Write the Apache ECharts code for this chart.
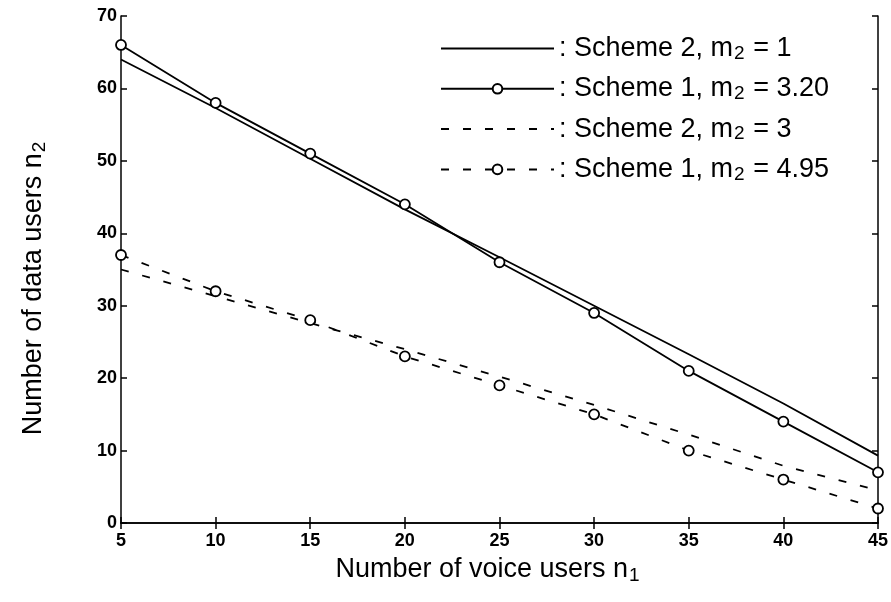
<!DOCTYPE html>
<html>
<head>
<meta charset="utf-8">
<script src="https://cdn.jsdelivr.net/npm/echarts@6/dist/echarts.min.js"></script>
<style>
html,body{margin:0;padding:0;background:#fff;}
#chart{width:891px;height:602px;}
</style>
</head>
<body>
<div id="chart"></div>
<script>
// Data
const voiceUsers = [5, 10, 15, 20, 25, 30, 35, 40, 45];
const scheme2_m1 = [64, 57.3, 50.3, 43.3, 36.7, 30, 23.3, 16.5, 9.3];
const scheme1_m320 = [66, 58, 51, 44, 36, 29, 21, 14, 7];
const scheme2_m3 = [35, 31.3, 27.6, 24, 20.2, 16.3, 12.2, 7.9, 4.5];
const scheme1_m495 = [37, 32, 28, 23, 19, 15, 10, 6, 2];
const xTicks = [5, 10, 15, 20, 25, 30, 35, 40, 45];
const yTicks = [0, 10, 20, 30, 40, 50, 60, 70];

const seriesNames = ['Scheme 2, m2 = 1', 'Scheme 1, m2 = 3.20', 'Scheme 2, m2 = 3', 'Scheme 1, m2 = 4.95'];
const legendRich = {
  'Scheme 2, m2 = 1': '{t|: Scheme 2, m}{s|2}{t| = 1}',
  'Scheme 1, m2 = 3.20': '{t|: Scheme 1, m}{s|2}{t| = 3.20}',
  'Scheme 2, m2 = 3': '{t|: Scheme 2, m}{s|2}{t| = 3}',
  'Scheme 1, m2 = 4.95': '{t|: Scheme 1, m}{s|2}{t| = 4.95}'
};

function pairs(ys) { return voiceUsers.map((x, i) => [x, ys[i]]); }

const FONT = 'Liberation Sans';
const chart = echarts.init(document.getElementById('chart'), null, {renderer: 'canvas'});

const axisCommon = {
  axisLine: {show: true, lineStyle: {color: '#000', width: 1.5}},
  axisTick: {show: true, inside: true, length: 6, lineStyle: {color: '#000', width: 1.5}},
  splitLine: {show: false}
};

const option = {
  backgroundColor: '#fff',
  animation: false,
  grid: {left: 121, right: 9, top: 16, bottom: 79, containLabel: false},
  legend: {
    orient: 'vertical',
    left: 435,
    top: 29,
    itemWidth: 113,
    itemHeight: 12,
    itemGap: 11.3,
    data: seriesNames,
    formatter: n => legendRich[n],
    textStyle: {
      color: '#000',
      fontFamily: FONT,
      rich: {
        t: {fontSize: 27, fontFamily: FONT, color: '#000', lineHeight: 30},
        s: {fontSize: 19, fontFamily: FONT, color: '#000', padding: [10, 1, 0, 1], lineHeight: 30}
      }
    }
  },
  xAxis: [
    Object.assign({
      type: 'value', min: 5, max: 45, interval: 5, position: 'bottom',
      name: '{t|Number of voice users n}{s|1}',
      nameLocation: 'middle', nameGap: 32,
      nameTextStyle: {
        padding: [0, 24, 0, 0],
        rich: {
          t: {fontSize: 27, fontFamily: FONT, color: '#000'},
          s: {fontSize: 19, fontFamily: FONT, color: '#000', padding: [11, 0, 0, 1]}
        }
      },
      axisLabel: {
        color: '#000', fontFamily: FONT, fontSize: 18, fontWeight: 'bold', margin: 9,
        customValues: xTicks
      }
    }, axisCommon),
    Object.assign({
      type: 'value', min: 5, max: 45, interval: 5, position: 'top',
      axisLabel: {show: false}
    }, axisCommon)
  ],
  yAxis: [
    Object.assign({
      type: 'value', min: 0, max: 70, interval: 10, position: 'left',
      name: '{t|Number of data users n}{s|2}',
      nameLocation: 'middle', nameGap: 72, nameRotate: 90,
      nameTextStyle: {
        padding: [0, 38, 0, 0],
        rich: {
          t: {fontSize: 27, fontFamily: FONT, color: '#000'},
          s: {fontSize: 19, fontFamily: FONT, color: '#000', padding: [11, 0, 0, 1]}
        }
      },
      axisLabel: {
        color: '#000', fontFamily: FONT, fontSize: 18, fontWeight: 'bold', margin: 4,
        customValues: yTicks
      }
    }, axisCommon),
    Object.assign({
      type: 'value', min: 0, max: 70, interval: 10, position: 'right',
      axisLabel: {show: false}
    }, axisCommon)
  ],
  series: [
    {
      name: seriesNames[0], type: 'line', data: pairs(scheme2_m1),
      symbol: 'none', lineStyle: {color: '#000', width: 1.8, type: 'solid'},
      itemStyle: {color: 'rgba(0,0,0,0)'}
    },
    {
      name: seriesNames[1], type: 'line', data: pairs(scheme1_m320),
      symbol: 'circle', symbolSize: 10, showSymbol: true,
      lineStyle: {color: '#000', width: 1.8, type: 'solid'},
      itemStyle: {color: '#fff', borderColor: '#000', borderWidth: 1.8}
    },
    {
      name: seriesNames[2], type: 'line', data: pairs(scheme2_m3),
      symbol: 'none', lineStyle: {color: '#000', width: 1.8, type: [8, 14]},
      itemStyle: {color: 'rgba(0,0,0,0)'}
    },
    {
      name: seriesNames[3], type: 'line', data: pairs(scheme1_m495),
      symbol: 'circle', symbolSize: 10, showSymbol: true,
      lineStyle: {color: '#000', width: 1.8, type: [8, 14]},
      itemStyle: {color: '#fff', borderColor: '#000', borderWidth: 1.8}
    }
  ]
};
chart.setOption(option);
</script>
</body>
</html>
